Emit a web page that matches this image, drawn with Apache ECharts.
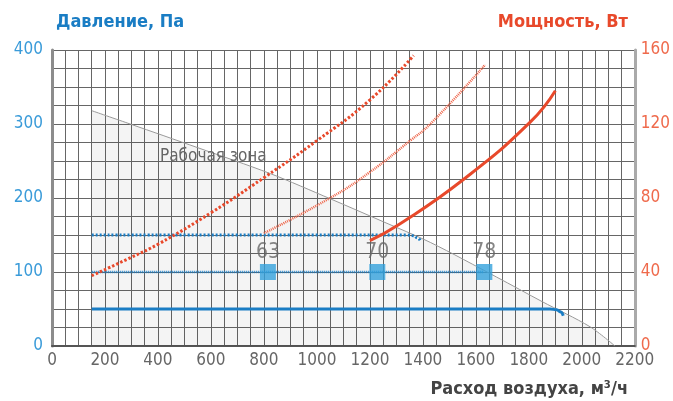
<!DOCTYPE html>
<html>
<head>
<meta charset="utf-8">
<script src="https://cdn.jsdelivr.net/npm/echarts@6/dist/echarts.min.js"></script>
<style>
  html, body { margin: 0; padding: 0; background: #fff; }
  #chart { width: 673px; height: 401px; }
</style>
</head>
<body>
<div id="chart"></div>
<script>
// рабочая зона (граница)
var zoneFlow = [150, 295, 550, 824, 1050, 1250, 1428, 1679, 1850, 2031, 2125];
var zonePress = [318, 300, 268, 233, 199, 168, 140, 93, 60, 26, 0];

// давление, Па
var p50Flow = [150, 1880, 1905, 1920, 1930];
var p50Val = [50, 50, 49, 46, 41];
var p100Flow = [150, 1630];
var p100Val = [100, 100];
var p150Flow = [150, 1340, 1365, 1380, 1392];
var p150Val = [150, 150, 149, 146, 141];

// мощность, Вт
var w1Flow = [150, 300, 400, 600, 800, 1000, 1200, 1365];
var w1Val = [38, 48, 55, 72, 91, 111, 133, 157];
var w2Flow = [800, 1050, 1200, 1352, 1428, 1635];
var w2Val = [61, 80, 94, 111, 120, 152];
var w3Flow = [1200, 1302, 1553, 1805, 1900];
var w3Val = [57, 65, 90, 121, 138];

// точки
var ptFlow = [815, 1228, 1632];
var ptName = ['63', '70', '78'];

var fontFam = "'Liberation Sans Narrow', 'DejaVu Sans Condensed', 'Roboto', sans-serif";
var blue = '#1a7dc4';
var red = '#e8492b';

function pairs(xs, ys) {
  return xs.map(function (x, i) { return [x, ys[i]]; });
}

var chart = echarts.init(document.getElementById('chart'));

var option = {
  animation: false,
  textStyle: { fontFamily: fontFam },
  title: [
    {
      text: 'Давление, Па', left: 51, top: 8,
      textStyle: { color: blue, fontSize: 18, fontWeight: 'bold', fontFamily: fontFam }
    },
    {
      text: 'Мощность, Вт', right: 40, top: 8,
      textStyle: { color: red, fontSize: 18, fontWeight: 'bold', fontFamily: fontFam }
    },
    {
      text: 'Расход воздуха, м³/ч', right: 40, top: 375,
      textStyle: { color: '#444', fontSize: 18, fontWeight: 'bold', fontFamily: fontFam }
    }
  ],
  grid: { left: 52, right: 38, top: 50, bottom: 55, containLabel: false },
  xAxis: {
    type: 'value', min: 0, max: 2200, interval: 50,
    axisLine: { lineStyle: { color: '#555', width: 2 } },
    axisTick: { show: false },
    axisLabel: {
      color: '#666', fontSize: 17, fontFamily: fontFam, margin: 6,
      formatter: function (v) { return v % 200 === 0 ? v : ''; }
    },
    splitLine: { lineStyle: { color: '#666', width: 1 } }
  },
  yAxis: [
    {
      type: 'value', min: 0, max: 400, interval: 25,
      axisLine: { show: true, lineStyle: { color: '#8c8c8c', width: 3 } },
      axisTick: { show: false },
      axisLabel: {
        color: '#3a9bd9', fontSize: 17, fontFamily: fontFam, margin: 9,
        formatter: function (v) { return v % 100 === 0 ? v : ''; }
      },
      splitLine: { lineStyle: { color: '#666', width: 1 } }
    },
    {
      type: 'value', min: 0, max: 160, interval: 40,
      position: 'right',
      axisLine: { show: true, lineStyle: { color: '#aaa', width: 3 } },
      axisTick: { show: false },
      axisLabel: { color: '#ef6a4c', fontSize: 17, fontFamily: fontFam, margin: 6 },
      splitLine: { show: false }
    }
  ],
  graphic: [
    {
      type: 'text', left: 160, top: 148, z: 10,
      style: { text: 'Рабочая зона', fill: '#666', fontSize: 17, fontFamily: fontFam }
    }
  ],
  series: [
    {
      name: 'Рабочая зона', type: 'line', yAxisIndex: 0,
      data: pairs(zoneFlow, zonePress), smooth: 0.3, symbol: 'none',
      lineStyle: { color: '#999', width: 1 },
      areaStyle: { color: 'rgba(0,0,0,0.06)', origin: 'start' },
      z: 1
    },
    {
      type: 'line', yAxisIndex: 0, data: pairs(p50Flow, p50Val),
      smooth: true, smoothMonotone: 'x', symbol: 'none',
      lineStyle: { color: blue, width: 3 }
    },
    {
      type: 'line', yAxisIndex: 0, data: pairs(p100Flow, p100Val),
      symbol: 'none',
      lineStyle: { color: blue, width: 2.5, type: [1, 1] }
    },
    {
      type: 'line', yAxisIndex: 0, data: pairs(p150Flow, p150Val),
      smooth: true, smoothMonotone: 'x', symbol: 'none',
      lineStyle: { color: blue, width: 3, type: [2, 2] }
    },
    {
      type: 'line', yAxisIndex: 1, data: pairs(w1Flow, w1Val),
      smooth: true, symbol: 'none',
      lineStyle: { color: red, width: 3, type: [2.5, 2] }
    },
    {
      type: 'line', yAxisIndex: 1, data: pairs(w2Flow, w2Val),
      smooth: true, symbol: 'none',
      lineStyle: { color: '#ee6347', width: 2.5, type: [1, 1] }
    },
    {
      type: 'line', yAxisIndex: 1, data: pairs(w3Flow, w3Val),
      smooth: true, symbol: 'none',
      lineStyle: { color: red, width: 3 }
    },
    {
      type: 'scatter', yAxisIndex: 0,
      data: ptFlow.map(function (x, i) { return { value: [x, 100], name: ptName[i] }; }),
      symbol: 'rect', symbolSize: 16,
      itemStyle: { color: '#33a1dc' },
      label: {
        show: true, position: 'top', distance: 1,
        formatter: '{b}', color: '#666', fontSize: 21, fontFamily: fontFam
      },
      z: 5
    }
  ]
};

chart.setOption(option);
</script>
</body>
</html>
